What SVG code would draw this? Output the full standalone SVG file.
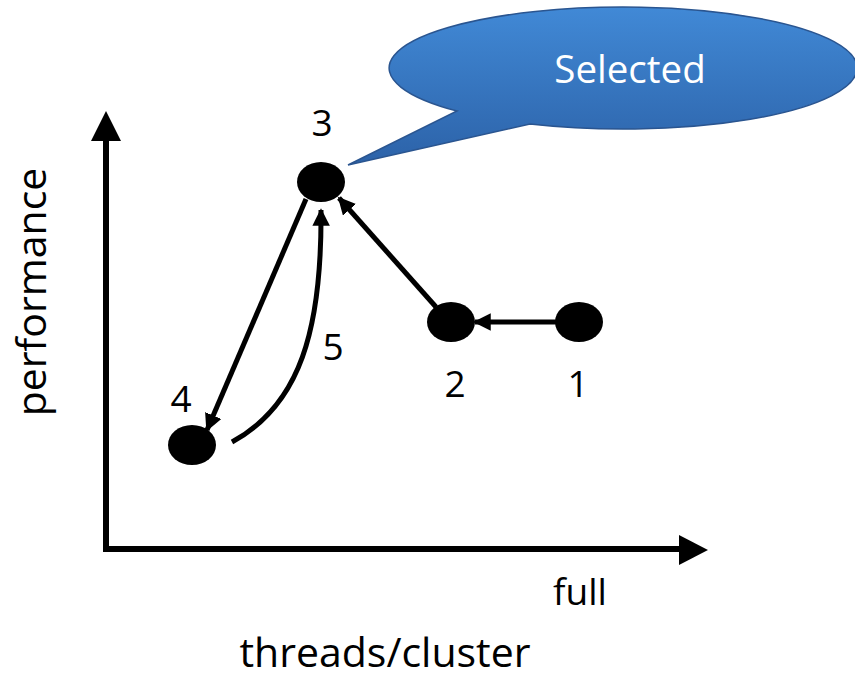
<svg xmlns="http://www.w3.org/2000/svg" width="855" height="682" viewBox="0 0 855 682">
<style>
.lbl{font-family:"Open Sans","Liberation Sans",sans-serif;font-size:37px;fill:#000;text-anchor:middle}
.ax{font-family:"Open Sans","Liberation Sans",sans-serif;font-size:40px;fill:#000;text-anchor:middle}
.node{fill:#000}
.edge{stroke:#000;stroke-width:5;fill:none}
</style>
<defs>
<linearGradient id="g" x1="0" y1="0" x2="0" y2="1">
<stop offset="0" stop-color="#4189d6"/>
<stop offset="1" stop-color="#2c62a8"/>
</linearGradient>
<marker id="ah" viewBox="0 0 10 10" refX="9" refY="5" markerWidth="3.5" markerHeight="3.5" orient="auto" markerUnits="strokeWidth">
<path d="M0,0L10,5L0,10z" fill="#000"/>
</marker>
</defs>
<g id="callout">
<path d="M457,111 A234,61 0 1 1 530,124 L348,165 Z" fill="url(#g)" stroke="#2a5590" stroke-width="1.5"/>
<text x="630" y="83" font-family="'Open Sans','Liberation Sans',sans-serif" font-size="38.5" fill="#fff" text-anchor="middle">Selected</text>
</g>
<g id="axes">
<line x1="106" y1="552" x2="106" y2="138" stroke="#000" stroke-width="6"/>
<path d="M91,141 L106,111 L121,141 Z" fill="#000"/>
<line x1="103" y1="549" x2="682" y2="549" stroke="#000" stroke-width="6"/>
<path d="M679,535 L708,550 L679,565 Z" fill="#000"/>
<text class="ax" x="580" y="605" style="font-size:37px">full</text>
<text class="ax" x="385" y="667" style="font-size:41px">threads/cluster</text>
<text class="ax" transform="translate(46,292) rotate(-90)" style="font-size:41px">performance</text>
</g>
<g id="connectors">
<line class="edge" x1="556" y1="322" x2="475" y2="322" marker-end="url(#ah)"/>
<line class="edge" x1="436" y1="307" x2="339" y2="198" marker-end="url(#ah)"/>
<line class="edge" x1="306" y1="199" x2="207" y2="430" marker-end="url(#ah)"/>
<path class="edge" d="M232,442 C300,405 322,330 321,210" marker-end="url(#ah)"/>
<text class="lbl" x="333" y="360">5</text>
</g>
<g id="n1"><ellipse class="node" cx="579" cy="322" rx="24" ry="20"/><text class="lbl" x="578" y="397">1</text></g>
<g id="n2"><ellipse class="node" cx="451" cy="322" rx="24" ry="20"/><text class="lbl" x="455" y="397">2</text></g>
<g id="n3"><ellipse class="node" cx="321" cy="182" rx="24" ry="20"/><text class="lbl" x="322" y="136">3</text></g>
<g id="n4"><ellipse class="node" cx="192" cy="445" rx="24" ry="20"/><text class="lbl" x="181" y="412">4</text></g>
</svg>
